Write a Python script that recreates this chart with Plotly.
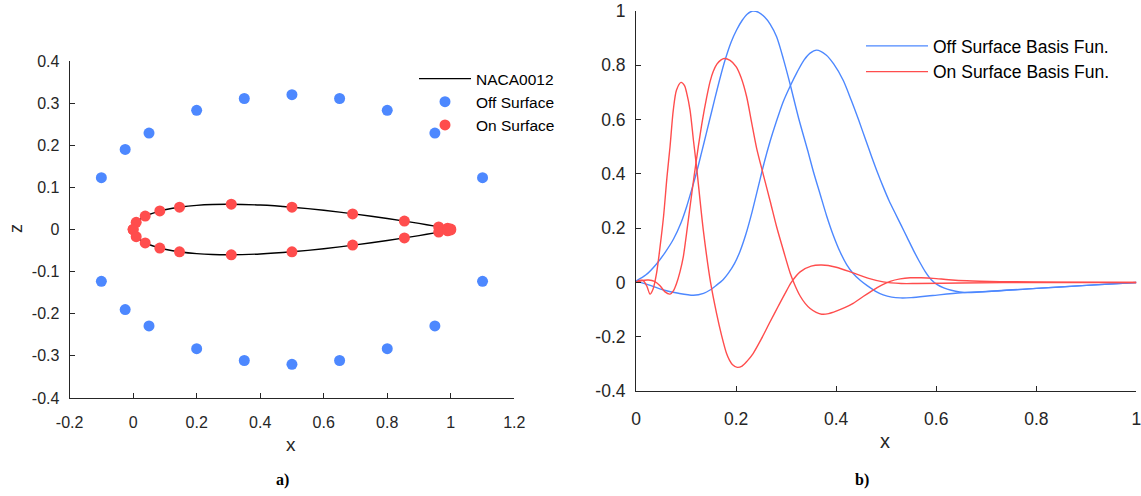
import plotly.graph_objects as go

# ---------------- panel a) : NACA0012 section with RBF centres ----------------
# NACA 0012 ordinates (fraction of chord), upper surface; lower is the mirror image
naca_x = [1.0, 0.95, 0.90, 0.80, 0.70, 0.60, 0.50, 0.40, 0.30, 0.25, 0.20,
          0.15, 0.10, 0.075, 0.05, 0.025, 0.0125, 0.005, 0.0]
naca_z = [0.00126, 0.00807, 0.01448, 0.02623, 0.03664, 0.04563, 0.05294,
          0.05803, 0.06002, 0.05941, 0.05737, 0.05345, 0.04683, 0.04200,
          0.03555, 0.02615, 0.01894, 0.0122, 0.0]

# centres placed off the surface (upper half, lower half mirrored)
off_x = [-0.10, -0.025, 0.05, 0.20, 0.35, 0.50, 0.65, 0.80, 0.95, 1.10]
off_z = [0.123, 0.190, 0.229, 0.283, 0.311, 0.320, 0.311, 0.283, 0.229, 0.123]

# centres on the surface (upper half, lower half mirrored)
on_x = [0.0, 0.0096, 0.038, 0.084, 0.146, 0.309, 0.50, 0.691, 0.854, 0.962, 0.990, 1.0]
on_z = [0.0, 0.017, 0.032, 0.044, 0.053, 0.060, 0.053, 0.037, 0.020, 0.006, 0.003, 0.001]

a_xticks = [-0.2, 0.0, 0.2, 0.4, 0.6, 0.8, 1.0, 1.2]
a_xtext = ["-0.2", "0", "0.2", "0.4", "0.6", "0.8", "1", "1.2"]
a_yticks = [-0.4, -0.3, -0.2, -0.1, 0.0, 0.1, 0.2, 0.3, 0.4]
a_ytext = ["-0.4", "-0.3", "-0.2", "-0.1", "0", "0.1", "0.2", "0.3", "0.4"]

# ---------------- panel b) : basis functions along the chord ----------------
off1_x = [0.000, 0.020, 0.041, 0.058, 0.075, 0.090, 0.101, 0.111, 0.121, 0.131,
          0.141, 0.151, 0.162, 0.1765, 0.190, 0.201, 0.212, 0.222, 0.233, 0.245,
          0.257, 0.268, 0.281, 0.295, 0.308, 0.325, 0.343, 0.355, 0.368, 0.381,
          0.394, 0.408, 0.421, 0.434, 0.448, 0.462, 0.478, 0.494, 0.511, 0.528,
          0.550, 0.593, 0.650, 0.700, 0.800, 0.900, 1.000]
off1_y = [0.005, 0.028, 0.068, 0.110, 0.160, 0.220, 0.278, 0.340, 0.405, 0.478,
          0.553, 0.628, 0.710, 0.810, 0.885, 0.930, 0.965, 0.988, 1.000, 0.995,
          0.978, 0.952, 0.905, 0.820, 0.730, 0.605, 0.487, 0.405, 0.325, 0.245,
          0.175, 0.112, 0.066, 0.033, 0.008, -0.012, -0.032, -0.046, -0.054, -0.057,
          -0.056, -0.048, -0.038, -0.033, -0.022, -0.011, 0.000]

off2_x = [0.000, 0.030, 0.055, 0.085, 0.115, 0.135, 0.148, 0.161, 0.174, 0.185,
          0.197, 0.208, 0.220, 0.232, 0.244, 0.256, 0.268, 0.280, 0.294, 0.308,
          0.322, 0.336, 0.348, 0.361, 0.380, 0.395, 0.414, 0.430, 0.445, 0.458,
          0.470, 0.482, 0.494, 0.506, 0.518, 0.530, 0.542, 0.554, 0.566, 0.578,
          0.590, 0.602, 0.615, 0.630, 0.647, 0.670, 0.800, 0.900, 1.000]
off2_y = [0.005, -0.012, -0.028, -0.040, -0.047, -0.040, -0.028, -0.010, 0.010, 0.035,
          0.070, 0.115, 0.180, 0.260, 0.350, 0.440, 0.520, 0.590, 0.665, 0.723,
          0.775, 0.820, 0.845, 0.856, 0.838, 0.805, 0.745, 0.672, 0.598, 0.530,
          0.468, 0.408, 0.352, 0.300, 0.255, 0.210, 0.165, 0.120, 0.078, 0.040,
          0.010, -0.008, -0.020, -0.029, -0.035, -0.037, -0.022, -0.011, 0.000]

on1_x = [0.000, 0.008, 0.015, 0.022, 0.028, 0.034, 0.041, 0.048, 0.055, 0.062,
         0.068, 0.0745, 0.081, 0.090, 0.097, 0.101, 0.108, 0.115, 0.121, 0.1345,
         0.149, 0.161, 0.171, 0.181, 0.187, 0.193, 0.2025, 0.212, 0.222, 0.234,
         0.250, 0.268, 0.285, 0.301, 0.311, 0.328, 0.350, 0.371, 0.400, 0.434,
         0.465, 0.494, 0.530, 0.561, 0.650, 0.800, 1.000]
on1_y = [0.000, 0.008, 0.006, -0.015, -0.043, -0.025, 0.033, 0.130, 0.242, 0.390,
         0.500, 0.635, 0.709, 0.737, 0.725, 0.700, 0.635, 0.520, 0.426, 0.193,
         0.000, -0.114, -0.195, -0.262, -0.287, -0.303, -0.313, -0.308, -0.290, -0.262,
         -0.210, -0.145, -0.085, -0.030, 0.002, 0.039, 0.060, 0.064, 0.056, 0.035,
         0.015, 0.002, -0.004, -0.004, -0.002, 0.000, 0.000]

on2_x = [0.000, 0.012, 0.025, 0.037, 0.048, 0.058, 0.068, 0.075, 0.081, 0.088,
         0.0945, 0.101, 0.108, 0.116, 0.1245, 0.133, 0.141, 0.148, 0.1545, 0.162,
         0.170, 0.1765, 0.188, 0.200, 0.210, 0.221, 0.231, 0.241, 0.254, 0.268,
         0.281, 0.295, 0.308, 0.318, 0.328, 0.338, 0.348, 0.360, 0.371, 0.385,
         0.400, 0.417, 0.434, 0.454, 0.474, 0.491, 0.508, 0.528, 0.548, 0.570,
         0.594, 0.625, 0.661, 0.727, 0.850, 1.000]
on2_y = [0.000, 0.007, 0.009, 0.004, -0.012, -0.035, -0.043, -0.030, -0.004, 0.040,
         0.094, 0.180, 0.279, 0.390, 0.500, 0.600, 0.680, 0.740, 0.778, 0.805,
         0.820, 0.825, 0.818, 0.795, 0.755, 0.685, 0.590, 0.495, 0.400, 0.300,
         0.205, 0.115, 0.035, -0.012, -0.050, -0.077, -0.096, -0.110, -0.117, -0.115,
         -0.106, -0.093, -0.077, -0.052, -0.028, -0.010, 0.004, 0.013, 0.017, 0.017,
         0.015, 0.010, 0.006, 0.003, 0.001, 0.000]

b_xticks = [0.0, 0.2, 0.4, 0.6, 0.8, 1.0]
b_xtext = ["0", "0.2", "0.4", "0.6", "0.8", "1"]
b_yticks = [-0.4, -0.2, 0.0, 0.2, 0.4, 0.6, 0.8, 1.0]
b_ytext = ["-0.4", "-0.2", "0", "0.2", "0.4", "0.6", "0.8", "1"]

BLUE = "#4D88FF"
RED = "#FF4D4D"
AXC = "#262626"
FONT = "Liberation Sans, Arial, Helvetica, sans-serif"
SERIF = "Liberation Serif, Times New Roman, serif"
W, H = 1141, 496

fig = go.Figure()

# airfoil outline: upper surface TE->LE, then lower surface LE->TE
foil_x = naca_x + naca_x[::-1][1:]
foil_z = naca_z + [-z for z in naca_z[::-1][1:]]
fig.add_trace(go.Scatter(x=foil_x, y=foil_z, mode="lines", name="NACA0012",
                         line=dict(color="black", width=1.4, shape="spline", smoothing=0.6),
                         xaxis="x", yaxis="y", legend="legend"))
fig.add_trace(go.Scatter(x=off_x + off_x, y=off_z + [-z for z in off_z], mode="markers",
                         name="Off Surface", marker=dict(color=BLUE, size=11),
                         xaxis="x", yaxis="y", legend="legend"))
fig.add_trace(go.Scatter(x=on_x + on_x, y=on_z + [-z for z in on_z], mode="markers",
                         name="On Surface", marker=dict(color=RED, size=11),
                         xaxis="x", yaxis="y", legend="legend"))

# basis functions
curves = [(off1_x, off1_y, BLUE, "Off Surface Basis Fun.", True),
          (off2_x, off2_y, BLUE, "Off Surface Basis Fun.", False),
          (on1_x, on1_y, RED, "On Surface Basis Fun.", True),
          (on2_x, on2_y, RED, "On Surface Basis Fun.", False)]
for cx, cy, col, nm, show in curves:
    fig.add_trace(go.Scatter(x=cx, y=cy, mode="lines", name=nm, showlegend=show,
                             line=dict(color=col, width=1.4, shape="spline", smoothing=0.8),
                             xaxis="x2", yaxis="y2", legend="legend2"))

axis_common = dict(showgrid=False, zeroline=False, showline=True, linecolor=AXC,
                   linewidth=1, ticks="inside", ticklen=5, tickcolor=AXC,
                   mirror=False, tickmode="array", automargin=False,
                   ticklabeloverflow="allow")

fig.update_layout(
    width=W, height=H, autosize=False,
    margin=dict(l=0, r=0, t=0, b=0, pad=0),
    paper_bgcolor="white", plot_bgcolor="white",
    font=dict(family=FONT, color=AXC),
    xaxis=dict(domain=[69.6 / W, 514.3 / W], range=[-0.2, 1.2],
               tickvals=a_xticks, ticktext=a_xtext, ticklabelstandoff=10,
               tickfont=dict(size=16), anchor="y", **axis_common),
    yaxis=dict(domain=[1 - 398 / H, 1 - 61 / H], range=[-0.4, 0.4],
               tickvals=a_yticks, ticktext=a_ytext, ticklabelstandoff=6,
               tickfont=dict(size=16), anchor="x", **axis_common),
    xaxis2=dict(domain=[636 / W, 1136.4 / W], range=[0, 1],
                tickvals=b_xticks, ticktext=b_xtext, ticklabelstandoff=12,
                tickfont=dict(size=17.5), anchor="y2", **axis_common),
    yaxis2=dict(domain=[1 - 391 / H, 1 - 11 / H], range=[-0.4, 1.0],
                tickvals=b_yticks, ticktext=b_ytext, ticklabelstandoff=6,
                tickfont=dict(size=17.5), anchor="x2", **axis_common),
    legend=dict(x=414 / W, y=1 - 62 / H, xanchor="left", yanchor="top",
                bgcolor="rgba(0,0,0,0)", borderwidth=0, itemwidth=52,
                font=dict(size=15.5, family=FONT, color="black"), tracegroupgap=0),
    legend2=dict(x=861 / W, y=1 - 28 / H, xanchor="left", yanchor="top",
                 bgcolor="rgba(0,0,0,0)", borderwidth=0, itemwidth=62,
                 font=dict(size=17.5, family=FONT, color="black"), tracegroupgap=0),
    showlegend=True,
)

annots = [
    dict(text="x", x=291, y=444, size=19, family=FONT, color=AXC),
    dict(text="z", x=16, y=229, size=18, family=FONT, color=AXC, angle=-90),
    dict(text="x", x=885, y=441, size=20, family=FONT, color=AXC),
    dict(text="<b>a)</b>", x=282, y=480, size=16, family=SERIF, color="black"),
    dict(text="<b>b)</b>", x=862, y=480, size=16, family=SERIF, color="black"),
]
for a in annots:
    fig.add_annotation(text=a["text"], x=a["x"] / W, y=1 - a["y"] / H,
                       xref="paper", yref="paper", showarrow=False,
                       xanchor="center", yanchor="middle", textangle=a.get("angle", 0),
                       font=dict(size=a["size"], family=a["family"], color=a["color"]))

fig.write_html("out.html")
